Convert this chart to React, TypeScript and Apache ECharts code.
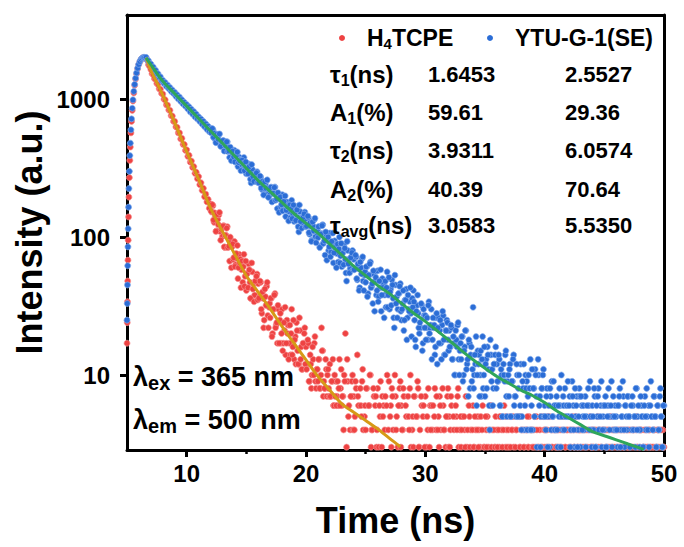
import React, { useEffect, useRef } from 'react';
import * as echarts from 'echarts';

const FONT = '"Liberation Sans", Arial, Helvetica, sans-serif';

// ---------- data ----------
const seriesNames = ['H4TCPE', 'YTU-G-1(SE)'];

// rising edge (explicit times, ns)
const riseTimes = [5.0, 5.02, 5.04, 5.06, 5.08, 5.1, 5.13, 5.16, 5.2, 5.24, 5.28, 5.33, 5.38, 5.44, 5.5, 5.57, 5.64, 5.72, 5.8, 5.89, 5.98, 6.08, 6.18, 6.28, 6.38, 6.48];
const redRise = [17, 24, 34, 48, 68, 95, 140, 195, 270, 360, 450, 570, 690, 830, 970, 1110, 1260, 1400, 1530, 1660, 1780, 1870, 1940, 1985, 2005, 2005];
const blueRise = [25, 33, 45, 62, 85, 115, 165, 225, 300, 390, 480, 600, 720, 860, 990, 1140, 1280, 1420, 1550, 1680, 1790, 1880, 1950, 1990, 2010, 2010];

// decay channels A: from decayStart, one value every decayStep ns
const decayStart = 6.6;
const decayStep = 0.1;
// decay channels B (in between A channels): from decayStartB, every decayStep ns
const decayStartB = 12.05;

const redDecay = [
  1990, 1920, 1780, 1730,
  1640, 1530, 1510, 1410, 1390, 1300, 1280, 1190, 1180, 1100,
  1090, 1000, 990, 910, 905, 835, 830, 760, 755, 690,
  690, 630, 625, 570, 570, 515, 520, 470, 470, 425,
  430, 385, 392, 350, 356, 320, 325, 290, 296, 265,
  275, 240, 248, 218, 226, 196, 205, 180, 188, 162,
  174, 152, 169, 128, 141, 111, 134, 145, 110, 114,
  101, 121, 84, 103, 119, 85, 67, 95, 85, 69,
  93, 63, 70, 50, 75, 69, 58, 47, 75, 52,
  41, 55, 64, 47, 36, 56, 46, 38, 48, 54,
  46, 37, 47, 28, 36, 25, 37, 44, 27, 31,
  26, 36, 20, 30, 39, 23, 17, 30, 25, 17,
  30, 17, 21, 14, 25, 23, 17, 14, 30, 16,
  13, 19, 24, 15, 12, 21, 16, 11, 17, 22,
  16, 12, 17, 9, 12, 10, 13, 17, 9, 11,
  9, 13, 8, 22, 15, 9, 8, 11, 10, 8,
  12, 7, 9, 6, 10, 9, 7, 6, 13, 8,
  6, 7, 10, 20, 3, 9, 6, 4, 7, 10,
  7, 5, 8, 14, 6, 1, 6, 9, 4, 5,
  4, 8, 2, 6, 10, 4, 1, 7, 6, 3,
  8, 3, 5, 1, 7, 6, 4, 2, 10, 4,
  2, 6, 8, 4, 1, 7, 5, 3, 6, 9,
  6, 4, 7, 2, 5, 1, 5, 8, 3, 4,
  3, 7, 1, 5, 8, 3, 1, 6, 5, 2,
  7, 3, 4, 1, 6, 6, 4, 2, 8, 4,
  1, 5, 7, 4, 1, 6, 4, 3, 5, 8,
  5, 4, 6, 2, 4, 1, 5, 7, 3, 4,
  3, 5, 2, 4, 7, 3, 1, 5, 4, 2,
  6, 3, 4, 1, 5, 4, 3, 2, 6, 3,
  2, 4, 5, 3, 1, 6, 4, 2, 3, 5,
  4, 1, 3, 5, 4, 2, 6, 3, 4, 1,
  3, 5, 2, 4, 3, 1, 4, 5, 2, 3,
  5, 2, 4, 3, 1, 4, 3, 5, 2, 4,
  1, 4, 3, 5, 2, 3, 4, 1, 3, 5,
  3, 2, 4, 3, 5, 1, 3, 4, 2, 3,
  4, 3, 1, 5, 3, 2, 4, 3, 1, 4,
  2, 4, 3, 1, 4, 3, 5, 2, 3, 4,
  3, 1, 4, 3, 2, 4, 3, 1, 5, 3,
  4, 3, 2, 4, 1, 3, 4, 3, 2, 4,
  1, 3, 4, 2, 3, 5, 1, 3, 4, 2,
  3, 4, 1, 3, 4, 2, 3, 4, 1, 3,
  4, 2, 3, 1, 4, 3, 2, 5, 3, 1,
  3, 4, 2, 3, 1, 4, 3, 2, 4, 3,
  2, 3, 4, 1, 3, 4, 2, 3, 1, 4,
  3,
];

const redDecayB = [
  154, 172, 133, 150, 110, 146, 123, 151, 95, 117,
  120, 85, 103, 116, 84, 86, 100, 60, 89, 71,
  61, 76, 87, 60, 65, 43, 67, 61, 44, 67,
  54, 43, 58, 36, 65, 42, 34, 48, 52, 35,
  36, 48, 30, 40, 22, 42, 32, 47, 22, 33,
  36, 19, 30, 38, 22, 24, 32, 17, 28, 20,
  15, 24, 31, 17, 20, 13, 23, 20, 14, 25,
  18, 12, 21, 12, 26, 13, 11, 17, 20, 12,
  11, 18, 9, 14, 8, 16, 10, 19, 8, 11,
  13, 8, 10, 15, 7, 8, 13, 7, 11, 7,
  7, 9, 13, 6, 7, 6, 9, 8, 6, 11,
  7, 4, 9, 2, 13, 5, 2, 7, 9, 4,
  4, 9, 2, 7, 1, 8, 5, 11, 1, 6,
  8, 1, 6, 10, 3, 4, 8, 1, 7, 4,
  2, 6, 9, 3, 5, 1, 7, 6, 2, 9,
  5, 3, 7, 1, 10, 4, 2, 6, 8, 3,
  4, 8, 2, 6, 1, 7, 4, 10, 1, 5,
  7, 1, 5, 9, 3, 4, 7, 1, 6, 3,
  2, 5, 8, 3, 4, 1, 6, 5, 2, 7,
  4, 3, 6, 1, 8, 4, 2, 5, 7, 3,
  3, 7, 2, 5, 1, 6, 4, 8, 1, 5,
  4, 2, 5, 3, 1, 4, 6, 3, 2, 4,
  3, 5, 1, 4, 3, 2, 5, 4, 1, 3,
  5, 3, 2, 4, 6, 3, 1, 4, 3, 2,
  3, 4, 5, 1, 3, 4, 2, 5, 3, 4,
  2, 3, 4, 5, 1, 3, 4, 2, 5, 3,
  4, 1, 3, 2, 4, 5, 3, 1, 4, 3,
  3, 5, 2, 4, 3, 1, 5, 3, 2, 4,
  4, 3, 5, 2, 1, 4, 3, 2, 4, 3,
  2, 4, 3, 4, 2, 5, 1, 3, 4, 2,
  3, 1, 4, 5, 3, 2, 4, 3, 1, 4,
  4, 3, 2, 4, 3, 1, 4, 2, 3, 4,
  3, 4, 1, 3, 5, 4, 2, 3, 4, 1,
  4, 2, 3, 4, 1, 3, 4, 2, 3, 4,
  2, 3, 4, 1, 3, 4, 3, 1, 4, 3,
  3, 4, 1, 3, 4, 2, 4, 3, 2, 4,
  4, 2, 3, 4, 3, 1, 3, 4, 3, 2,
  3, 4, 3, 2, 4, 3, 1, 4, 2, 3,
];

const blueDecay = [
  2010, 1920, 1900, 1810,
  1800, 1700, 1710, 1610, 1620, 1520, 1530, 1440, 1450, 1360,
  1370, 1300, 1320, 1240, 1265, 1195, 1215, 1140, 1165, 1100,
  1120, 1050, 1075, 1005, 1035, 965, 990, 925, 950, 890,
  915, 850, 880, 810, 845, 780, 812, 745, 780, 720,
  745, 690, 718, 660, 690, 632, 662, 605, 637, 582,
  612, 570, 602, 521, 546, 486, 534, 555, 480, 489,
  462, 499, 423, 459, 491, 420, 378, 435, 412, 374,
  426, 360, 373, 325, 381, 365, 336, 310, 378, 318,
  288, 321, 339, 294, 247, 310, 284, 259, 282, 298,
  272, 247, 272, 222, 241, 205, 239, 256, 208, 217,
  203, 230, 182, 208, 231, 187, 161, 202, 188, 166,
  203, 161, 171, 141, 180, 171, 153, 138, 185, 148,
  130, 153, 166, 139, 109, 153, 137, 122, 140, 152,
  136, 121, 139, 105, 120, 95, 120, 134, 101, 108,
  99, 119, 86, 106, 123, 92, 74, 104, 95, 80,
  107, 78, 86, 65, 94, 89, 76, 66, 100, 73,
  61, 78, 89, 69, 48, 80, 69, 59, 71, 80,
  69, 59, 72, 49, 59, 43, 60, 70, 48, 53,
  47, 61, 39, 53, 66, 44, 33, 54, 48, 38,
  57, 37, 43, 29, 50, 46, 38, 31, 56, 38,
  30, 42, 49, 36, 22, 45, 37, 30, 39, 46,
  25, 33, 21, 35, 42, 26, 30, 34, 28, 36,
  41, 25, 16, 32, 28, 20, 22, 32, 17, 27,
  27, 22, 18, 34, 22, 30, 18, 22, 14, 26,
  12, 26, 21, 17, 23, 27, 14, 21, 25, 18,
  21, 16, 22, 13, 17, 10, 18, 23, 13, 15,
  13, 19, 10, 16, 21, 12, 7, 17, 14, 9,
  31, 10, 12, 6, 15, 14, 10, 7, 19, 10,
  7, 13, 16, 11, 4, 14, 11, 8, 12, 16,
  12, 9, 13, 6, 10, 5, 10, 14, 7, 9,
  7, 12, 5, 9, 14, 7, 5, 10, 8, 5,
  12, 5, 8, 4, 10, 9, 7, 4, 13, 6,
  4, 8, 11, 7, 2, 10, 7, 5, 8, 11,
  6, 4, 8, 5, 3, 7, 9, 5, 6, 4,
  7, 3, 5, 6, 10, 4, 6, 8, 2, 5,
  5, 7, 4, 9, 6, 3, 5, 7, 4, 8,
  3, 6, 5, 4, 7, 5, 2, 6, 9, 4,
  6, 4, 7, 3, 5, 8, 4, 6, 3, 5,
  4, 7, 3, 6, 5, 2, 9, 5, 4, 6,
  5, 3, 6, 8, 4, 5, 7, 3, 6, 4,
  7, 5, 2, 4, 6, 5, 3, 8, 5, 4,
  4, 6, 5, 3, 7, 4, 5, 6, 2, 9,
  5, 4, 7, 5, 3, 6, 4, 8, 5, 3,
  6,
];

const blueDecayB = [
  571, 612, 530, 566, 484, 557, 512, 560, 455, 494,
  501, 421, 461, 491, 418, 422, 449, 358, 419, 382,
  351, 389, 414, 348, 358, 303, 360, 342, 303, 351,
  319, 288, 325, 263, 336, 275, 253, 283, 292, 249,
  248, 277, 227, 253, 202, 252, 226, 260, 194, 221,
  230, 180, 208, 229, 185, 189, 210, 151, 195, 172,
  155, 181, 199, 157, 166, 131, 171, 160, 136, 171,
  151, 132, 158, 119, 171, 130, 116, 139, 147, 119,
  120, 142, 108, 127, 93, 129, 111, 137, 91, 111,
  119, 84, 105, 121, 90, 94, 109, 68, 100, 85,
  72, 93, 107, 77, 84, 60, 89, 82, 65, 90,
  76, 63, 83, 55, 93, 64, 55, 71, 77, 58,
  58, 74, 50, 64, 41, 66, 54, 72, 41, 56,
  61, 37, 53, 64, 43, 46, 57, 29, 51, 41,
  34, 48, 58, 38, 43, 26, 48, 43, 31, 51,
  40, 32, 45, 26, 53, 33, 26, 39, 44, 29,
  30, 41, 25, 35, 18, 38, 29, 43, 19, 31,
  34, 18, 29, 38, 22, 24, 33, 15, 30, 22,
  18, 26, 32, 20, 23, 13, 26, 23, 16, 28,
  22, 17, 25, 13, 29, 18, 14, 21, 24, 15,
  16, 23, 13, 19, 10, 21, 16, 24, 10, 17,
  19, 9, 15, 21, 11, 13, 18, 8, 16, 11,
  8, 14, 19, 10, 12, 7, 15, 13, 8, 16,
  12, 8, 14, 6, 18, 9, 6, 12, 14, 8,
  9, 14, 6, 11, 5, 12, 9, 15, 5, 10,
  11, 5, 9, 13, 6, 7, 12, 5, 10, 6,
  4, 9, 12, 6, 8, 4, 10, 8, 4, 11,
  8, 5, 10, 3, 13, 6, 3, 8, 10, 5,
  5, 7, 3, 6, 8, 4, 5, 9, 4, 6,
  4, 6, 8, 3, 5, 7, 4, 5, 6, 9,
  6, 3, 5, 7, 4, 8, 6, 3, 5, 7,
  7, 4, 6, 5, 3, 6, 8, 4, 5, 3,
  5, 8, 3, 6, 7, 4, 5, 9, 4, 6,
  6, 3, 5, 8, 4, 6, 3, 7, 5, 4,
  4, 6, 7, 3, 5, 9, 4, 6, 5, 7,
  5, 3, 6, 7, 4, 5, 8, 4, 6, 3,
  7, 5, 3, 6, 5, 8, 4, 3, 6, 5,
  4, 7, 5, 3, 6, 4, 7, 5, 3, 6,
];

// fitted curves
const redFitTimes = [6.6, 7, 8, 9, 10, 11, 12, 13, 14, 15, 16, 17, 18, 19, 20, 21, 22, 23, 24, 25, 26, 27, 27.9];
const redFit = [1995, 1622, 1072, 676, 417, 263, 162, 110, 75.9, 52.5, 39.8, 30.2, 22.4, 17.0, 12.9, 9.77, 7.76, 6.17, 5.37, 4.68, 4.07, 3.47, 3.02];
const blueFitTimes = [6.6, 7, 8, 9, 10, 11, 12, 13, 14, 15, 16, 17, 18, 19, 20, 21, 22, 23, 24, 25, 26, 27, 28, 29, 30, 31, 32, 33, 34, 35, 36, 37, 38, 39, 40, 41, 42, 43, 44, 45, 46, 47, 48, 48.3];
const blueFit = [1995, 1778, 1349, 1096, 891, 724, 589, 479, 389, 316, 257, 214, 178, 148, 126, 107, 89.1, 74.1, 61.7, 52.5, 44.7, 38.9, 33.1, 28.2, 24.5, 20.9, 17.8, 15.1, 12.9, 11.2, 9.77, 8.71, 7.76, 7.08, 6.31, 5.50, 4.90, 4.37, 3.89, 3.63, 3.39, 3.16, 2.95, 2.88];

// axes
const xMin = 5;
const xMax = 50;
const xMajorTicks = [10, 20, 30, 40, 50];
const xMinorTicks = [15, 25, 35, 45];
const yMin = 2.86;
const yMax = 4080;
const yTicks = [10, 100, 1000];

// fit-parameter table
const tableLabels: [string, string, string][] = [
  ['τ', '1', '(ns)'],
  ['A', '1', '(%)'],
  ['τ', '2', '(ns)'],
  ['A', '2', '(%)'],
  ['τ', 'avg', '(ns)'],
];
const tableH4TCPE = ['1.6453', '59.61', '3.9311', '40.39', '3.0583'];
const tableYTU = ['2.5527', '29.36', '6.0574', '70.64', '5.5350'];

const excitationLabels: [string, string][] = [
  ['ex', ' = 365 nm'],
  ['em', ' = 500 nm'],
];

// ---------- colours / layout ----------
const RED = '#EE4242';
const BLUE = '#2B6DD6';
const ORANGE = '#D69A16';
const GREEN = '#2FA65A';

const tableRowY = [74, 112, 150, 189, 225];
const tableColX = [330, 428, 565];
const legendX = [342, 490];
const legendY = 38;

function buildScatter(rise: number[], decay: number[], decayB: number[]) {
  const pts: number[][] = riseTimes.map((t, i) => [t, rise[i]]);
  decay.forEach((v, i) => {
    pts.push([Number((decayStart + i * decayStep).toFixed(2)), v]);
  });
  decayB.forEach((v, i) => {
    pts.push([Number((decayStartB + i * decayStep).toFixed(2)), v]);
  });
  return pts;
}

export default function App() {
  const ref = useRef<HTMLDivElement>(null);

  useEffect(() => {
    if (!ref.current) return;
    const chart = echarts.init(ref.current, null, { renderer: 'svg' });

    const axisLineStyle = { color: '#000', width: 3 };
    const tickLabelStyle = {
      fontFamily: FONT,
      fontWeight: 'bold' as const,
      fontSize: 24,
      color: '#000',
    };
    const nameStyle = {
      fontFamily: FONT,
      fontWeight: 'bold' as const,
      fontSize: 36,
      color: '#000',
    };

    const richMain = (size: number, lh: number) => ({
      fontFamily: FONT,
      fontWeight: 'bold',
      fontSize: size,
      fill: '#000',
      color: '#000',
      lineHeight: lh,
    });
    const richSub = (size: number, lh: number) => ({
      fontFamily: FONT,
      fontWeight: 'bold',
      fontSize: size,
      fill: '#000',
      color: '#000',
      lineHeight: lh,
      verticalAlign: 'bottom',
    });

    const labelRich = { m: richMain(24, 28), s: richSub(16, 11) };
    const valueRich = { m: richMain(22, 28) };
    const legendRich = { m: richMain(23, 26), s: richSub(15, 10) };
    const lambdaRich = { m: richMain(27, 32), l: richMain(27, 32), s: richSub(20, 16) };

    const textEl = (x: number, y: number, text: string, rich: any) => ({
      type: 'text',
      x,
      y,
      z: 100,
      style: {
        text,
        rich,
        align: 'left',
        verticalAlign: 'middle',
        textAlign: 'left',
        textVerticalAlign: 'middle',
      },
    });

    const graphics: any[] = [];
    tableLabels.forEach((lab, i) => {
      graphics.push(textEl(tableColX[0], tableRowY[i], `{m|${lab[0]}}{s|${lab[1]}}{m|${lab[2]}}`, labelRich));
      graphics.push(textEl(tableColX[1], tableRowY[i], `{m|${tableH4TCPE[i]}}`, valueRich));
      graphics.push(textEl(tableColX[2], tableRowY[i], `{m|${tableYTU[i]}}`, valueRich));
    });
    excitationLabels.forEach((lab, i) => {
      graphics.push(textEl(133, [377, 420][i], `{l|λ}{s|${lab[0]}}{m|${lab[1]}}`, lambdaRich));
    });
    // legend
    [RED, BLUE].forEach((c, i) => {
      graphics.push({
        type: 'circle',
        z: 100,
        shape: { cx: legendX[i], cy: legendY, r: 3 },
        style: { fill: c },
      });
    });
    graphics.push(textEl(legendX[0] + 25, legendY, '{m|H}{s|4}{m|TCPE}', legendRich));
    graphics.push(textEl(legendX[1] + 25, legendY, `{m|${seriesNames[1]}}`, legendRich));

    const scatterCommon = {
      type: 'scatter',
      xAxisIndex: 0,
      yAxisIndex: 0,
      symbol: 'circle',
      symbolSize: 6,
      clip: true,
      large: false,
    };

    const option: any = {
      animation: false,
      backgroundColor: '#fff',
      grid: {
        left: 127,
        right: 20,
        top: 15,
        bottom: 97,
        containLabel: false,
        outerBoundsMode: 'none',
      },
      xAxis: [
        {
          type: 'value',
          position: 'bottom',
          min: xMin,
          max: xMax,
          axisLine: { show: true, onZero: false, lineStyle: axisLineStyle },
          axisTick: {
            show: true,
            inside: false,
            length: 7,
            customValues: xMajorTicks,
            lineStyle: axisLineStyle,
          },
          axisLabel: { ...tickLabelStyle, customValues: xMajorTicks, margin: 11 },
          splitLine: { show: false },
          name: 'Time (ns)',
          nameLocation: 'middle',
          nameGap: 52,
          nameMoveOverlap: false,
          nameTextStyle: nameStyle,
        },
        {
          type: 'value',
          position: 'bottom',
          min: xMin,
          max: xMax,
          axisLine: { show: false, onZero: false },
          axisTick: {
            show: true,
            inside: false,
            length: 4,
            customValues: xMinorTicks,
            lineStyle: { color: '#000', width: 2.5 },
          },
          axisLabel: { show: false },
          splitLine: { show: false },
        },
        {
          type: 'value',
          position: 'top',
          min: xMin,
          max: xMax,
          axisLine: { show: true, onZero: false, lineStyle: axisLineStyle },
          axisTick: { show: false },
          axisLabel: { show: false },
          splitLine: { show: false },
        },
      ],
      yAxis: [
        {
          type: 'log',
          logBase: 10,
          position: 'left',
          min: yMin,
          max: yMax,
          axisLine: { show: true, onZero: false, lineStyle: axisLineStyle },
          axisTick: {
            show: true,
            inside: false,
            length: 7,
            customValues: yTicks,
            lineStyle: axisLineStyle,
          },
          minorTick: { show: false },
          axisLabel: {
            ...tickLabelStyle,
            customValues: yTicks,
            margin: 17,
            formatter: (v: number) => String(Math.round(v)),
          },
          splitLine: { show: false },
          name: 'Intensity (a.u.)',
          nameLocation: 'middle',
          nameRotate: 90,
          nameGap: 80,
          nameMoveOverlap: false,
          nameTextStyle: nameStyle,
        },
        {
          type: 'log',
          logBase: 10,
          position: 'right',
          min: yMin,
          max: yMax,
          axisLine: { show: true, onZero: false, lineStyle: axisLineStyle },
          axisTick: { show: false },
          axisLabel: { show: false },
          splitLine: { show: false },
        },
      ],
      series: [
        {
          ...scatterCommon,
          name: seriesNames[0],
          itemStyle: { color: RED, borderColor: '#F79090', borderWidth: 0.7, opacity: 1 },
          data: buildScatter(redRise, redDecay, redDecayB),
        },
        {
          ...scatterCommon,
          name: seriesNames[1],
          itemStyle: { color: BLUE, borderColor: '#86AEEC', borderWidth: 0.7, opacity: 1 },
          data: buildScatter(blueRise, blueDecay, blueDecayB),
        },
        {
          name: 'H4TCPE fit',
          type: 'line',
          xAxisIndex: 0,
          yAxisIndex: 0,
          showSymbol: false,
          symbol: 'none',
          smooth: 0.3,
          clip: true,
          lineStyle: { color: ORANGE, width: 3 },
          data: redFitTimes.map((t, i) => [t, redFit[i]]),
        },
        {
          name: 'YTU-G-1(SE) fit',
          type: 'line',
          xAxisIndex: 0,
          yAxisIndex: 0,
          showSymbol: false,
          symbol: 'none',
          smooth: 0.3,
          clip: true,
          lineStyle: { color: GREEN, width: 3 },
          data: blueFitTimes.map((t, i) => [t, blueFit[i]]),
        },
      ],
      graphic: { elements: graphics },
    };

    chart.setOption(option);
    return () => chart.dispose();
  }, []);

  return (
    <div
      ref={ref}
      style={{ position: 'fixed', left: 0, top: 0, width: 684, height: 547, background: '#fff' }}
    />
  );
}
